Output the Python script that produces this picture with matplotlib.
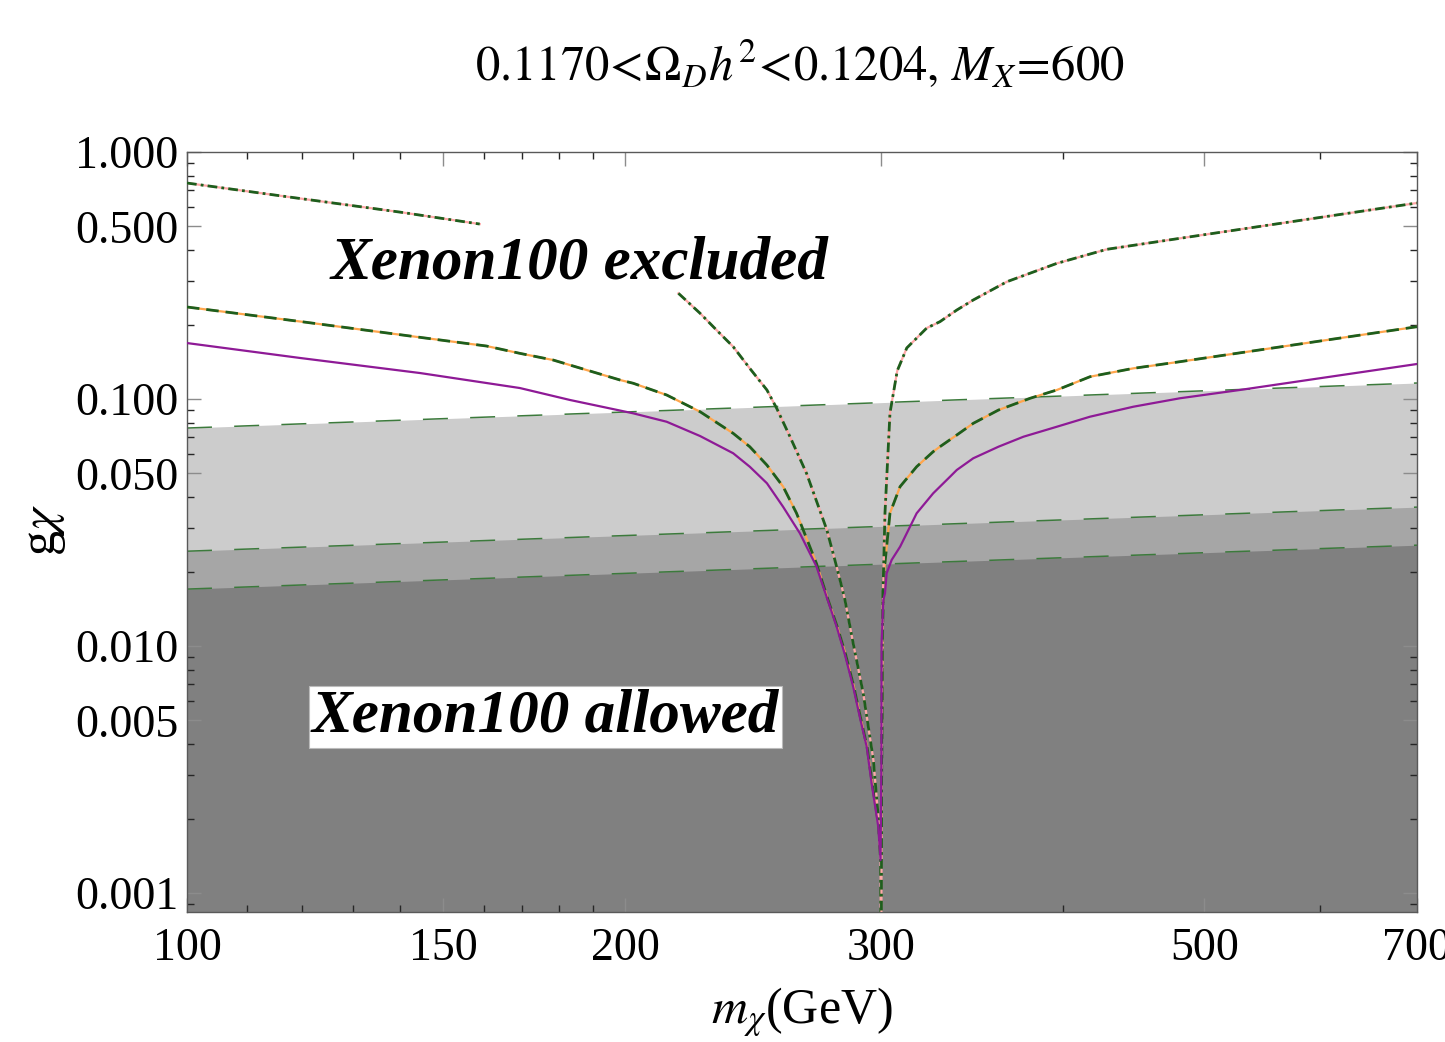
"""
Relic density band plot: g_chi versus m_chi with Xenon100 limits.
"""

import matplotlib
matplotlib.use("Agg")
import matplotlib.pyplot as plt
from matplotlib.ticker import LogLocator, NullFormatter


plt.rcParams["font.family"] = ["Liberation Serif", "DejaVu Serif"]
plt.rcParams["mathtext.fontset"] = "stix"
plt.rcParams["lines.scale_dashes"] = False

# Xenon100 band edges (power laws, straight on log-log)
band_x = [100, 300, 700]
band_light = [0.0763, 0.0967, 0.1161]
band_mid = [0.0242, 0.0305, 0.0365]
band_dark = [0.0170, 0.02145, 0.0256]

# purple solid curve
purple_x = [100, 119.6, 144.6, 169.3, 183.3, 202.6, 213.6, 225.2,
            237.3, 243.6, 250.3, 256.8, 263.7, 270.7, 275.1, 279.5, 283.2,
            286.9, 289.9, 293.1, 295.4, 298.5, 299.6,
            300.0, 300.1, 300.9, 301.7, 302.5, 304.9, 309.0, 317.2, 325.6,
            334.4, 338.0, 346.9, 361.0, 375.6, 396.0, 417.3, 446.9, 481.1,
            529.0, 700]
purple_y = [0.1685, 0.1466, 0.1274, 0.1108, 0.0991, 0.0875, 0.0809,
            0.0708, 0.0603, 0.0532, 0.0456, 0.0366, 0.0286, 0.0210, 0.0158,
            0.01197, 0.00920, 0.00684, 0.00517, 0.00391, 0.00278, 0.00186,
            0.00136,
            0.00346, 0.01025, 0.01535, 0.01634, 0.01970, 0.0223, 0.02523,
            0.03446, 0.04151, 0.04846, 0.05161, 0.05754, 0.06409, 0.07037,
            0.07724, 0.08480, 0.09307, 0.1007, 0.1088, 0.1386]

# orange curve with green dashes
orange_x = [100, 119.6, 144.6, 152.4, 160.6, 169.3, 178.5, 188.2, 198.4,
            202.6, 213.6, 225.2, 237.3, 243.6, 250.3, 256.8, 262.3, 265.1,
            270.7, 275.3, 279.7, 283.4, 287.1, 290.1, 293.3, 295.6, 298.7,
            299.8,
            300.2, 300.5, 300.9, 304.1, 309.0, 317.2, 325.6, 329.1, 338.0,
            346.9, 361.0, 379.6, 396.0, 417.3, 446.9, 481.1, 700]
orange_y = [0.2358, 0.2060, 0.1777, 0.1706, 0.1639, 0.1531, 0.1438, 0.1310,
            0.1194, 0.1158, 0.1038, 0.0888, 0.0726, 0.0641, 0.0540, 0.0442,
            0.0345, 0.0295, 0.0216, 0.0158, 0.0120, 0.0093, 0.0069, 0.0052,
            0.0039, 0.0028, 0.00188, 0.00137,
            0.0035, 0.0100, 0.0185, 0.0345, 0.0442, 0.0532, 0.0612, 0.0641,
            0.0715, 0.0797, 0.0902, 0.1007, 0.1088, 0.1231, 0.1331, 0.1416,
            0.1962]

# pink curve with green dash-dot, three pieces
pink_a_x = [100, 119.0, 140.1, 158.9]
pink_a_y = [0.749, 0.651, 0.571, 0.511]
pink_b_x = [217.6, 225.2, 231.1, 237.3, 243.6, 250.3, 254.2, 259.6, 266.5,
            275.2, 278.7, 281.0, 283.2, 286.9, 291.5, 296.2, 298.5, 299.6,
            299.7]
pink_b_y = [0.2679, 0.2223, 0.1903, 0.1628, 0.1331, 0.1088, 0.0917, 0.0704,
            0.0500, 0.0295, 0.0223, 0.0185, 0.01535, 0.01025, 0.00643,
            0.00346, 0.00204, 0.00136, 0.0007]
pink_c_x = [300.0, 300.1, 300.4, 300.9, 301.7, 304.1, 307.6, 312.3, 322.3,
            329.1, 338.0, 346.9, 365.9, 396.0, 428.5, 481.1, 700]
pink_c_y = [0.0007, 0.00346, 0.0103, 0.0185, 0.0345, 0.0878, 0.1300, 0.1610,
            0.1938, 0.2056, 0.2292, 0.2517, 0.2985, 0.3542, 0.4037, 0.4473,
            0.6218]

x_major = [100, 150, 200, 300, 500, 700]
x_minor = [110, 120, 130, 140, 160, 170, 180, 190, 400, 600]
y_major = [0.001, 0.005, 0.01, 0.05, 0.1, 0.5, 1.0]
y_labels = ["0.001", "0.005", "0.010", "0.050", "0.100", "0.500", "1.000"]

GREEN = "#1d5e1d"
BAND_GREEN = "#3c7a3c"

fig = plt.figure(figsize=(14.45, 10.42), dpi=100)
ax = fig.add_axes([0.1294, 0.1248, 0.8512, 0.7293])
ax.set_xscale("log")
ax.set_yscale("log")
ymin = 0.000838
ax.set_xlim(100, 700)
ax.set_ylim(ymin, 1.0)

# gray bands
ax.fill_between(band_x, ymin, band_light, color="#cccccc", lw=0, zorder=1)
ax.fill_between(band_x, ymin, band_mid, color="#a6a6a6", lw=0, zorder=1)
ax.fill_between(band_x, ymin, band_dark, color="#808080", lw=0, zorder=1)
for edge in (band_light, band_mid, band_dark):
    ax.plot(band_x, edge, color=BAND_GREEN, lw=1.1,
            linestyle=(0, (18, 16)), zorder=2)

# purple
ax.plot(purple_x, purple_y, color="#8e1a96", lw=1.6, zorder=4)

# orange + green dashes
ax.plot(orange_x, orange_y, color="#ffa64d", lw=1.6, zorder=3)
ax.plot(orange_x, orange_y, color=GREEN, lw=2.0,
        linestyle=(0, (9, 5)), zorder=3)

# pink + green dash-dot
for px, py in ((pink_a_x, pink_a_y), (pink_b_x, pink_b_y),
               (pink_c_x, pink_c_y)):
    ax.plot(px, py, color="#ffa8a8", lw=1.6, zorder=3)
    ax.plot(px, py, color=GREEN, lw=2.0,
            linestyle=(0, (7, 3, 2, 3)), zorder=3)

# ticks
ax.set_xticks(x_major)
ax.set_xticklabels([str(v) for v in x_major])
ax.set_xticks(x_minor, minor=True)
ax.xaxis.set_minor_formatter(NullFormatter())
ax.set_yticks(y_major)
ax.set_yticklabels(y_labels)
ax.yaxis.set_minor_locator(LogLocator(base=10, subs=(2, 3, 4, 6, 7, 8, 9)))
ax.yaxis.set_minor_formatter(NullFormatter())

ax.tick_params(which="both", direction="in", top=True, right=True,
               labelsize=33)
ax.tick_params(which="major", length=10, width=1.0, color="0.55")
ax.tick_params(which="minor", length=5, width=1.0, color="0.15")
ax.tick_params(axis="x", which="major", pad=11)
ax.tick_params(axis="y", which="major", pad=6)

for sp in ax.spines.values():
    sp.set_color("0.35")
    sp.set_linewidth(1.0)

# region labels
ax.text(0.3195, 0.853, "Xenon100 excluded", transform=ax.transAxes,
        ha="center", va="center", fontsize=44, fontweight="bold",
        fontstyle="italic", zorder=6)
ax.text(0.2915, 0.256, "Xenon100 allowed", transform=ax.transAxes,
        ha="center", va="center", fontsize=44, fontweight="bold",
        fontstyle="italic", zorder=6,
        bbox=dict(facecolor="white", edgecolor="#bbbbbb", lw=0.8,
                  boxstyle="square,pad=0.05"))

# title and axis labels
fig.text(0.5536, 1 - 65 / 1042,
         r"$0.1170\!<\!\Omega_{D}h^{2}\!<\!0.1204,\,M_{X}\!=\!600$",
         ha="center", va="center", fontsize=35)
fig.text(0.5550, 1 - 1012 / 1042, r"$m_{\chi}$(GeV)",
         ha="center", va="center", fontsize=36)
fig.text(45 / 1445, 1 - 530 / 1042, r"g$\chi$", rotation=90,
         ha="center", va="center", fontsize=36)

fig.savefig("out.png", dpi=100)
